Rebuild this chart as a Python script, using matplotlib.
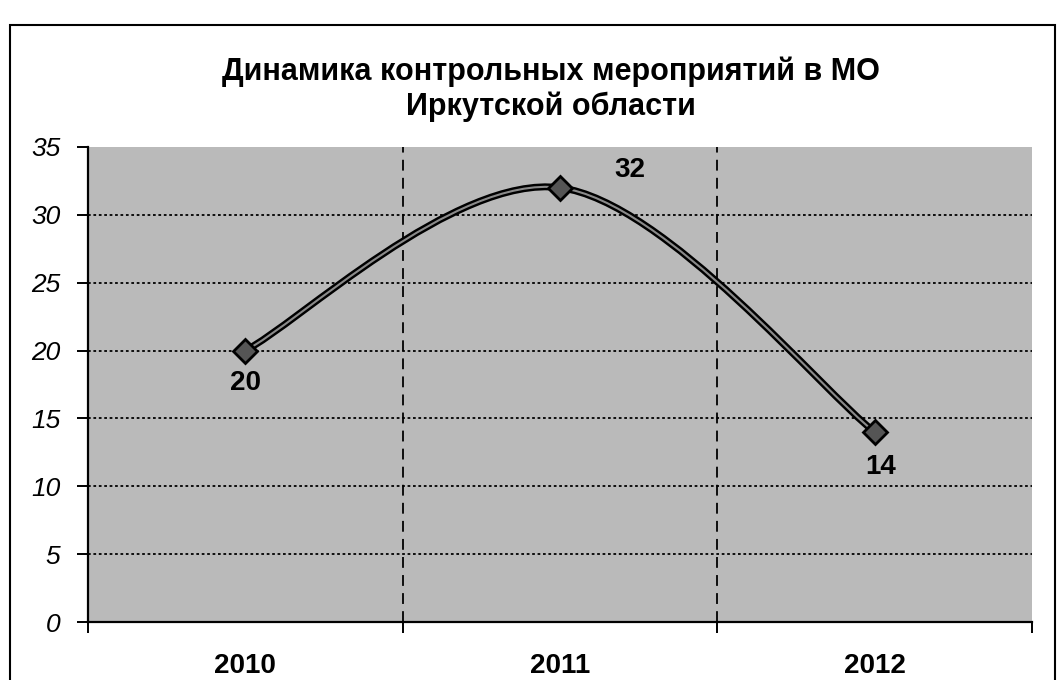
import matplotlib.pyplot as plt
from matplotlib.path import Path
from matplotlib.patches import PathPatch, Rectangle

plt.rcParams['font.family'] = ['Liberation Sans', 'DejaVu Sans']

years = ['2010', '2011', '2012']
values = [20, 32, 14]

fig = plt.figure(figsize=(10.59, 6.8), dpi=100)
ax = fig.add_axes([88/1059, 58/680, 944/1059, 475/680])

ax.set_facecolor('#bababa')
ax.set_xlim(-0.5, 2.5)
ax.set_ylim(0, 35)

# сглаженная линия (как в Excel) - кривые Безье через точки
x = list(range(len(values)))
pts = list(zip(x, values))
verts = [pts[0]]
codes = [Path.MOVETO]
for i in range(len(pts) - 1):
    p0 = pts[i - 1] if i > 0 else pts[i]
    p1 = pts[i]
    p2 = pts[i + 1]
    p3 = pts[i + 2] if i + 2 < len(pts) else pts[i + 1]
    c1 = (p1[0] + (p2[0] - p0[0]) / 6, p1[1] + (p2[1] - p0[1]) / 6)
    c2 = (p2[0] - (p3[0] - p1[0]) / 6, p2[1] - (p3[1] - p1[1]) / 6)
    verts += [c1, c2, p2]
    codes += [Path.CURVE4] * 3
path = Path(verts, codes)
ax.add_patch(PathPatch(path, fill=False, edgecolor='black', lw=5, zorder=3))
ax.add_patch(PathPatch(path, fill=False, edgecolor='#8a8a8a', lw=1.5, zorder=4))

ax.plot(x, values, linestyle='none', marker='D', markersize=12,
        markerfacecolor='#555555', markeredgecolor='black', markeredgewidth=2, zorder=5)

# подписи данных
offsets = [(0, -23), (50, 13), (4, -25)]
for xi, v, off in zip(x, values, offsets):
    ax.annotate(str(v), (xi, v), xytext=off, textcoords='offset points',
                ha='center', va='center', fontsize=20, fontweight='bold', zorder=6)

# сетка
for yv in range(5, 35, 5):
    ax.axhline(yv, color='black', lw=1.3, linestyle=(0, (1.5, 1.5)), zorder=1)
for xv in [0.5, 1.5]:
    ax.axvline(xv, color='black', lw=1.3, linestyle=(0, (6, 4)), zorder=1)

ax.spines['top'].set_visible(False)
ax.spines['right'].set_visible(False)
ax.spines['left'].set_linewidth(1.6)
ax.spines['bottom'].set_linewidth(1.6)

ax.set_yticks(range(0, 36, 5))
ax.set_yticklabels([str(v) for v in range(0, 36, 5)], fontsize=19, fontstyle='italic')
ax.tick_params(axis='y', direction='out', length=8, width=1.4, pad=12)

ax.set_xticks(x)
ax.set_xticklabels(years, fontsize=20, fontweight='bold')
ax.set_xticks([-0.5, 0.5, 1.5, 2.5], minor=True)
ax.tick_params(axis='x', which='major', length=0, pad=22)
ax.tick_params(axis='x', which='minor', direction='out', length=8, width=1.4)

fig.text(0.52, 0.869, 'Динамика контрольных мероприятий в МО\nИркутской области',
         ha='center', va='center', fontsize=22, fontweight='bold', linespacing=1.2)

# рамка диаграммы
fig.add_artist(Rectangle((10/1059, -0.01), 1045/1059, 1.01 - 25/680,
                         transform=fig.transFigure, fill=False, edgecolor='black', lw=1.5))

fig.savefig('out.png', dpi=100, facecolor='white')
